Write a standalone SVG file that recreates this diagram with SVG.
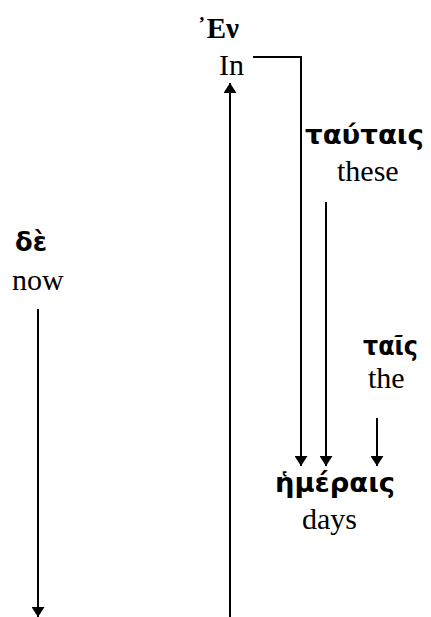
<svg xmlns="http://www.w3.org/2000/svg" width="431" height="617" viewBox="0 0 431 617">
<style>
.en{font-family:"Liberation Serif","Times New Roman",serif;font-size:30px;fill:#000}
.gk{font-family:"DejaVu Sans","Noto Sans",sans-serif;font-size:27px;font-weight:bold;fill:#000}
.gs{font-family:"Liberation Serif","Times New Roman",serif;font-size:29px;font-weight:bold;fill:#000}
.c{fill:none;stroke:#000;stroke-width:2}
</style>
<defs>
<marker id="ah" viewBox="0 0 10 13" refX="10" refY="6.5" markerWidth="10" markerHeight="13" markerUnits="userSpaceOnUse" orient="auto">
<path d="M0,0 L10,6.5 L0,13 z" fill="#000"/>
</marker>
</defs>
<g id="n-en">
<text class="gs" x="197" y="38">᾿Εν</text>
<text class="en" x="219" y="75">In</text>
</g>
<g id="n-tautais">
<text class="gk" x="305" y="144" textLength="119" lengthAdjust="spacingAndGlyphs">ταύταις</text>
<text class="en" x="337" y="181">these</text>
</g>
<g id="n-de">
<text class="gk" x="15" y="251" textLength="32" lengthAdjust="spacingAndGlyphs">δὲ</text>
<text class="en" x="12" y="290">now</text>
</g>
<g id="n-tais">
<text class="gk" x="363" y="355" textLength="55" lengthAdjust="spacingAndGlyphs">ταῖς</text>
<text class="en" x="368" y="388">the</text>
</g>
<g id="n-hemerais">
<text class="gk" x="275" y="492" textLength="120" lengthAdjust="spacingAndGlyphs">ἡμέραις</text>
<text class="en" x="302" y="529">days</text>
</g>
<g id="connectors">
<path class="c" d="M253,57 H301 V466" marker-end="url(#ah)"/>
<path class="c" d="M326,202 V466" marker-end="url(#ah)"/>
<path class="c" d="M377,418 V466" marker-end="url(#ah)"/>
<path class="c" d="M38,309 V617" marker-end="url(#ah)"/>
<path class="c" d="M230,617 V83" marker-end="url(#ah)"/>
</g>
</svg>
